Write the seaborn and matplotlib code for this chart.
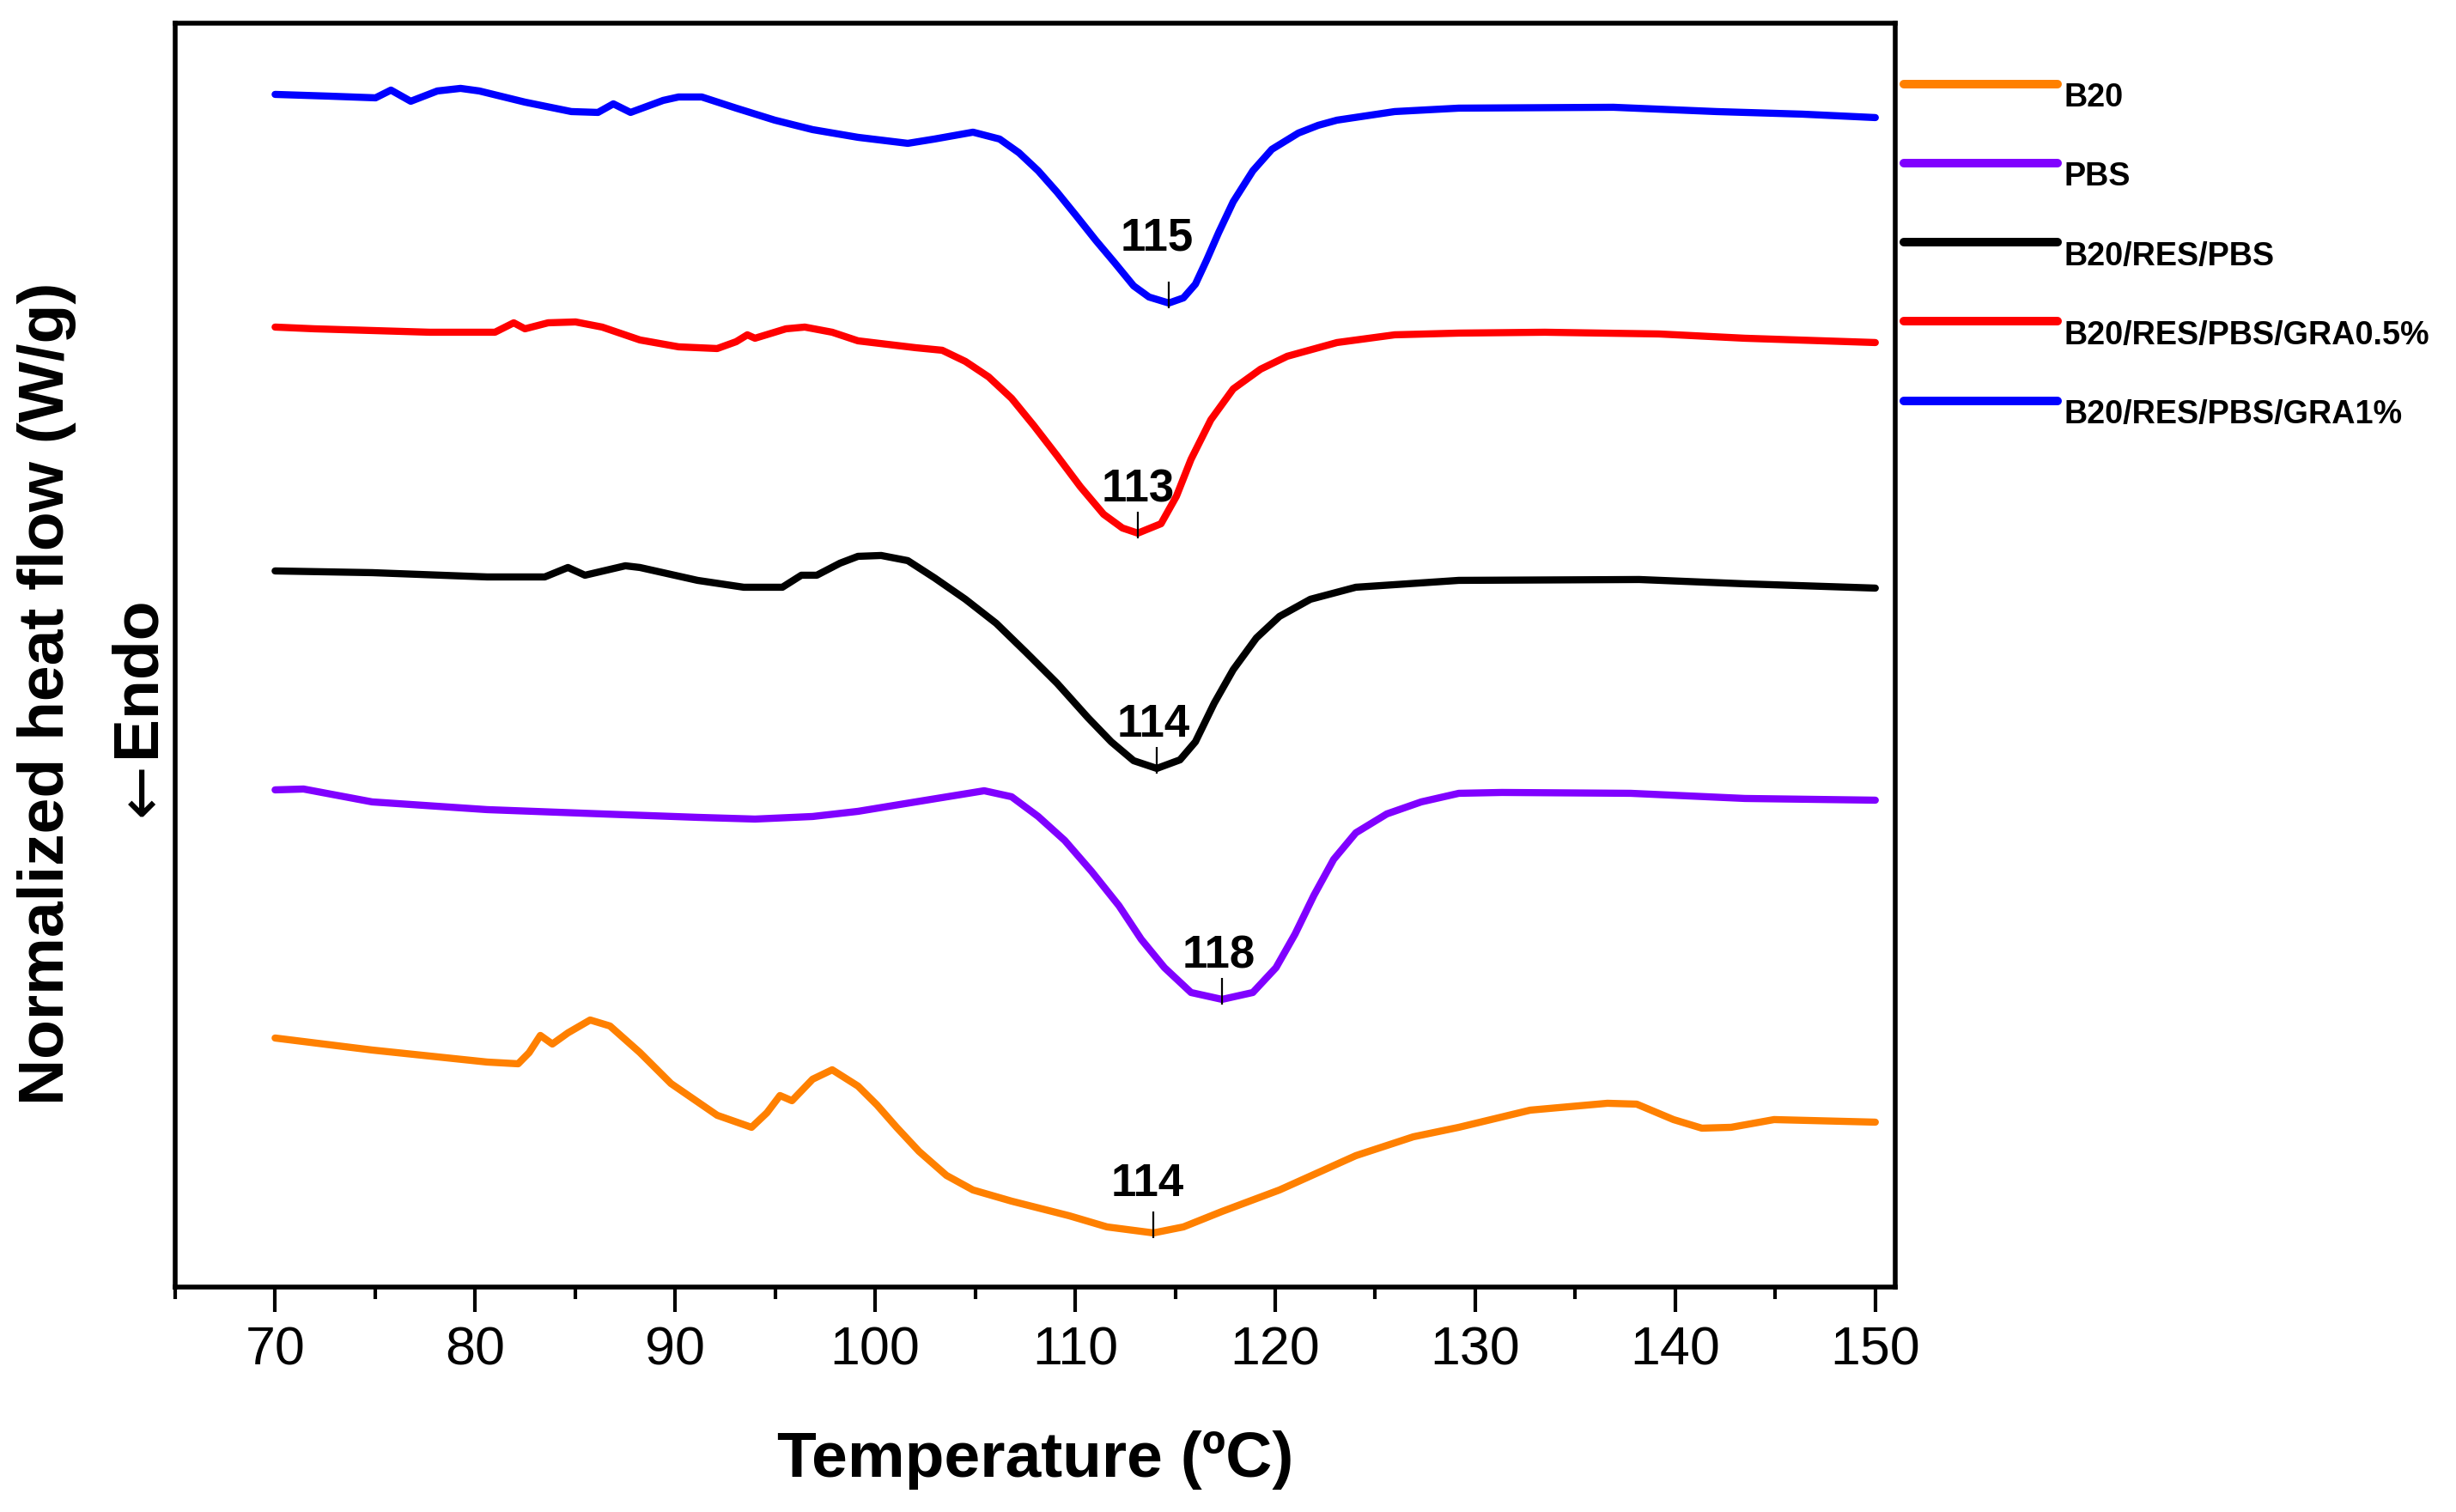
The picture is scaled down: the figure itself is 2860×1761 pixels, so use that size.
import numpy as np
import pandas as pd
import matplotlib
matplotlib.use("Agg")
import matplotlib.pyplot as plt
import seaborn as sns
from matplotlib.lines import Line2D
from matplotlib.ticker import MultipleLocator
from matplotlib.legend_handler import HandlerLine2D

# DSC curves (stacked, arbitrary offset units)
t_b20 = [70.0, 74.85, 80.6, 82.15, 82.7, 83.26, 83.86, 84.64, 85.75, 86.74, 88.24, 89.79,
         92.1, 93.82, 94.59, 95.24, 95.84, 96.87, 97.85, 99.14, 100.09, 101.07, 102.19,
         103.56, 104.89, 106.82, 109.7, 111.59, 113.91, 115.41, 117.34, 120.21, 124.03,
         126.91, 129.18, 132.75, 136.61, 138.07, 139.91, 141.33, 142.79, 144.94, 150.0]
hf_b20 = [2.90, 2.76, 2.62, 2.60, 2.73, 2.93, 2.83, 2.96, 3.11, 3.04, 2.73, 2.37,
          2.00, 1.86, 2.03, 2.23, 2.17, 2.42, 2.53, 2.34, 2.12, 1.86, 1.58,
          1.30, 1.13, 1.00, 0.83, 0.70, 0.63, 0.70, 0.88, 1.13, 1.53,
          1.75, 1.86, 2.06, 2.14, 2.13, 1.95, 1.85, 1.86, 1.95, 1.92]

t_pbs = [70.0, 71.42, 74.85, 80.6, 86.35, 91.12, 93.99, 96.87, 99.14, 102.02, 105.45,
         106.82, 108.15, 109.48, 110.82, 112.19, 113.3, 114.46, 115.79, 117.34, 118.88,
         120.04, 120.99, 121.93, 122.92, 124.03, 125.58, 127.3, 129.18, 131.33, 137.77,
         143.48, 150.0]
hf_pbs = [5.79, 5.80, 5.65, 5.56, 5.51, 5.47, 5.45, 5.48, 5.54, 5.65, 5.78,
          5.71, 5.48, 5.20, 4.84, 4.44, 4.05, 3.72, 3.43, 3.35, 3.43,
          3.72, 4.11, 4.56, 4.98, 5.29, 5.51, 5.65, 5.75, 5.76, 5.75,
          5.69, 5.67]

t_res = [70.0, 74.85, 80.6, 83.48, 84.64, 85.49, 87.51, 88.24, 91.12, 93.43, 95.36, 96.31,
         97.08, 98.24, 99.14, 100.3, 101.63, 102.96, 104.51, 106.05, 107.55, 109.1, 110.64,
         111.8, 112.92, 114.08, 115.24, 116.01, 116.95, 117.9, 119.06, 120.21, 121.76,
         124.03, 129.18, 138.2, 143.48, 150.0]
hf_res = [8.34, 8.32, 8.27, 8.27, 8.38, 8.29, 8.40, 8.38, 8.23, 8.15, 8.15, 8.29,
          8.29, 8.43, 8.51, 8.52, 8.46, 8.26, 8.01, 7.73, 7.39, 7.03, 6.63,
          6.35, 6.13, 6.04, 6.14, 6.35, 6.80, 7.19, 7.56, 7.81, 8.01,
          8.15, 8.23, 8.24, 8.19, 8.14]

t_gra05 = [70.0, 71.97, 74.85, 77.73, 80.99, 81.93, 82.49, 83.65, 85.02, 86.35, 88.24,
           90.17, 92.1, 93.05, 93.61, 93.99, 95.54, 96.48, 97.85, 99.14, 102.02, 103.35,
           104.51, 105.67, 106.82, 107.94, 109.1, 110.26, 111.42, 112.36, 113.13, 114.29,
           115.06, 115.79, 116.78, 117.9, 119.27, 120.6, 123.09, 125.97, 129.18, 133.48,
           139.18, 143.48, 150.0]
hf_gra05 = [11.18, 11.16, 11.14, 11.12, 11.12, 11.23, 11.16, 11.23, 11.24, 11.18, 11.03,
            10.95, 10.93, 11.01, 11.09, 11.05, 11.16, 11.18, 11.12, 11.02, 10.94, 10.91,
            10.78, 10.60, 10.35, 10.03, 9.68, 9.32, 9.00, 8.84, 8.78, 8.89,
            9.21, 9.64, 10.10, 10.46, 10.69, 10.84, 11.00, 11.09, 11.11, 11.12,
            11.10, 11.05, 11.00]

t_gra1 = [70.0, 72.66, 75.02, 75.79, 76.78, 78.11, 79.27, 80.21, 82.49, 84.81, 86.14, 86.91,
          87.77, 89.4, 90.17, 91.33, 93.05, 94.98, 96.87, 99.14, 101.63, 102.96, 104.89,
          106.22, 107.19, 108.15, 109.1, 110.04, 111.03, 111.97, 112.92, 113.69, 114.68,
          115.41, 116.01, 116.57, 117.17, 117.9, 118.88, 119.83, 121.16, 122.15, 123.09,
          125.97, 129.18, 136.91, 142.06, 146.35, 150.0]
hf_gra1 = [13.89, 13.87, 13.85, 13.94, 13.81, 13.93, 13.96, 13.93, 13.80, 13.69, 13.68, 13.78,
           13.68, 13.82, 13.86, 13.86, 13.73, 13.59, 13.48, 13.39, 13.32, 13.37, 13.45,
           13.37, 13.21, 13.00, 12.75, 12.48, 12.19, 11.93, 11.66, 11.53, 11.46,
           11.52, 11.68, 11.96, 12.28, 12.64, 13.00, 13.25, 13.44, 13.53, 13.59,
           13.69, 13.73, 13.74, 13.69, 13.66, 13.62]

samples = ["B20", "PBS", "B20/RES/PBS", "B20/RES/PBS/GRA0.5%", "B20/RES/PBS/GRA1%"]
colors = ["#FF8000", "#8000FF", "#000000", "#FF0000", "#0000FF"]
peak_labels = ["114", "118", "114", "113", "115"]

temps = [t_b20, t_pbs, t_res, t_gra05, t_gra1]
flows = [hf_b20, hf_pbs, hf_res, hf_gra05, hf_gra1]

df = pd.concat([pd.DataFrame({"T": t, "HF": h, "sample": s})
                for t, h, s in zip(temps, flows, samples)], ignore_index=True)

sns.set_theme(style="ticks")
plt.rcParams["font.family"] = ["Liberation Sans", "DejaVu Sans"]
plt.rcParams.update({"text.color": "black", "axes.labelcolor": "black",
                     "xtick.color": "black", "ytick.color": "black"})

fig = plt.figure(figsize=(14.3, 8.805), dpi=200)
ax = fig.add_axes([0.0713, 0.1488, 0.7004, 0.8359])

sns.lineplot(data=df, x="T", y="HF", hue="sample", hue_order=samples,
             palette=dict(zip(samples, colors)), estimator=None, sort=False,
             lw=3.0, legend=False, ax=ax)
for ln in ax.get_lines():
    ln.set_solid_capstyle("round")
    ln.set_solid_joinstyle("round")

# peak labels with small tick marks at the curve minima
label_dy = [15.5, 13.3, 13.3, 13.0, 22.0]
label_dx = [-2.5, -1.5, -1.5, 0.0, -5.0]
for t, h, lab, dy, dx in zip(temps, flows, peak_labels, label_dy, label_dx):
    i = int(np.argmin(h))
    ax.vlines(t[i], h[i] - 0.06, h[i] + 0.25, color="black", lw=0.8, zorder=5)
    ax.annotate(lab, xy=(t[i], h[i]), xytext=(dx, dy), textcoords="offset points",
                ha="center", va="baseline", fontsize=19, fontweight="bold",
                color="black")

ax.set_xlim(65, 151)
ax.set_ylim(0, 14.72)
ax.xaxis.set_major_locator(MultipleLocator(10))
ax.xaxis.set_minor_locator(MultipleLocator(5))
ax.set_yticks([])
ax.tick_params(axis="x", which="major", direction="out", length=10.5, width=1.5,
               labelsize=22.6, pad=5.5, color="black", labelcolor="black")
ax.tick_params(axis="x", which="minor", direction="out", length=5, width=1.5,
               color="black", bottom=True)
for sp in ax.spines.values():
    sp.set_visible(True)
    sp.set_color("black")
    sp.set_linewidth(2.0)

ax.set_xlabel("Temperature (ºC)", fontsize=27, fontweight="bold", labelpad=23,
              color="black")
ax.set_ylabel("")
fig.text(0.0192, 0.541, "Normalized heat flow (W/g)", rotation=90, ha="center",
         va="center", fontsize=27, fontweight="bold", color="black")
fig.text(0.056, 0.5525, "Endo", rotation=90, ha="center", va="center",
         fontsize=27, fontweight="bold", color="black")
fig.text(0.0584, 0.4776, "←", rotation=90, ha="center", va="center",
         fontsize=27, family="DejaVu Sans", color="black")


class RaisedLine(HandlerLine2D):
    def create_artists(self, legend, orig_handle, xdescent, ydescent, width,
                       height, fontsize, trans):
        arts = super().create_artists(legend, orig_handle, xdescent, ydescent,
                                      width, height, fontsize, trans)
        for a in arts:
            a.set_ydata(np.asarray(a.get_ydata(), dtype=float) + 0.35 * fontsize)
        return arts


handles = [Line2D([], [], color=c, lw=3.6, solid_capstyle="round") for c in colors]
fig.legend(handles, samples, loc="upper left", bbox_to_anchor=(2217 / 2860, 0.9455),
           frameon=False, handlelength=4.75, handletextpad=0.2, labelspacing=1.49,
           borderpad=0, borderaxespad=0, prop=dict(weight="bold", size=13.6),
           handler_map={Line2D: RaisedLine()}, labelcolor="black")

fig.savefig("out.png", dpi=200, facecolor="white")
